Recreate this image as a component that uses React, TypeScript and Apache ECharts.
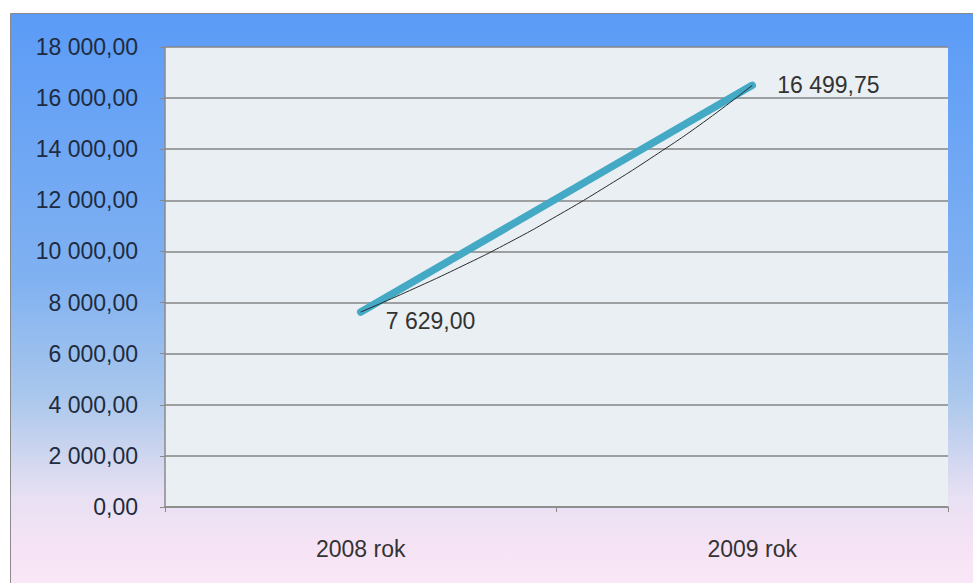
import React, { useEffect, useRef } from "react";
import * as echarts from "echarts";

const categories = ["2008 rok", "2009 rok"];
const values = [7629.0, 16499.75];
const yTicks = { min: 0, max: 18000, interval: 2000 };
// thin black trendline (x in category units, 0.5 = 2008, 1.5 = 2009)
const trendX = [0.5, 0.625, 0.75, 0.875, 1.0, 1.125, 1.25, 1.375, 1.5];
const trendY = [7629, 8470, 9360, 10320, 11380, 12520, 13740, 15050, 16500];

function fmt(v: number): string {
  const [i, d] = Math.abs(v).toFixed(2).split(".");
  const g = i.replace(/\B(?=(\d{3})+(?!\d))/g, " ");
  return (v < 0 ? "-" : "") + g + "," + d;
}

const FONT = "Liberation Sans";

export default function App() {
  const ref = useRef<HTMLDivElement>(null);
  useEffect(() => {
    document.body.style.margin = "0";
    const chart = echarts.init(ref.current!, undefined, { renderer: "svg" });
    chart.setOption({
      animation: false,
      graphic: [
        {
          type: "rect",
          z: -100,
          silent: true,
          shape: { x: 10.5, y: 13.5, width: 980, height: 590 },
          style: {
            stroke: "#8a8a8a",
            lineWidth: 1,
            fill: new echarts.graphic.LinearGradient(0, 0, 0, 1, [
              { offset: 0, color: "#5b9bf7" },
              { offset: 0.45, color: "#80b1f1" },
              { offset: 0.65, color: "#aac7ec" },
              { offset: 0.75, color: "#cfd6ef" },
              { offset: 0.82, color: "#e8e0f3" },
              { offset: 0.9, color: "#f5e3f5" },
              { offset: 1, color: "#fbe8f7" },
            ]),
          },
        },
      ],
      grid: {
        left: 165,
        top: 47,
        right: 25,
        bottom: 76,
        show: true,
        backgroundColor: "#e9eff2",
        borderWidth: 0,
        containLabel: false,
      },
      xAxis: [
        {
          type: "category",
          data: categories,
          boundaryGap: true,
          axisLine: { show: true, lineStyle: { color: "#8a8a8a", width: 1.5 } },
          axisTick: { show: true, inside: false, length: 5, lineStyle: { color: "#8a8a8a" } },
          axisLabel: { color: "#333333", fontFamily: FONT, fontSize: 23, margin: 30 },
          splitLine: { show: false },
        },
        {
          type: "value",
          min: 0,
          max: 2,
          show: false,
        },
      ],
      yAxis: {
        type: "value",
        min: yTicks.min,
        max: yTicks.max,
        interval: yTicks.interval,
        axisLine: { show: true, lineStyle: { color: "#8a8a8a", width: 1.5 } },
        axisTick: { show: true, inside: false, length: 5, lineStyle: { color: "#8a8a8a" } },
        axisLabel: {
          color: "#1f2b40",
          fontFamily: FONT,
          fontSize: 23,
          margin: 27,
          formatter: (v: number) => fmt(v),
        },
        splitLine: { show: true, lineStyle: { color: "#858585", width: 1.5 } },
      },
      series: [
        {
          type: "line",
          xAxisIndex: 0,
          data: values.map((v, i) =>
            i === 0
              ? { value: v, label: { offset: [0, 9], distance: 24 } }
              : { value: v, label: { offset: [0, 0], distance: 24 } }
          ),
          symbol: "circle",
          symbolSize: 2,
          showSymbol: true,
          itemStyle: { color: "#43a9c5" },
          lineStyle: { color: "#43a9c5", width: 7.5, cap: "round" },
          label: {
            show: true,
            position: "right",
            color: "#333333",
            fontFamily: FONT,
            fontSize: 23,
            formatter: (p: any) => fmt(p.value),
          },
          z: 3,
        },
        {
          type: "line",
          xAxisIndex: 1,
          data: trendX.map((x, i) => [x, trendY[i]]),
          symbol: "none",
          smooth: true,
          lineStyle: { color: "#2a2a2a", width: 1 },
          z: 4,
        },
      ],
    });
    return () => chart.dispose();
  }, []);
  return <div ref={ref} style={{ width: 973, height: 583 }} />;
}
